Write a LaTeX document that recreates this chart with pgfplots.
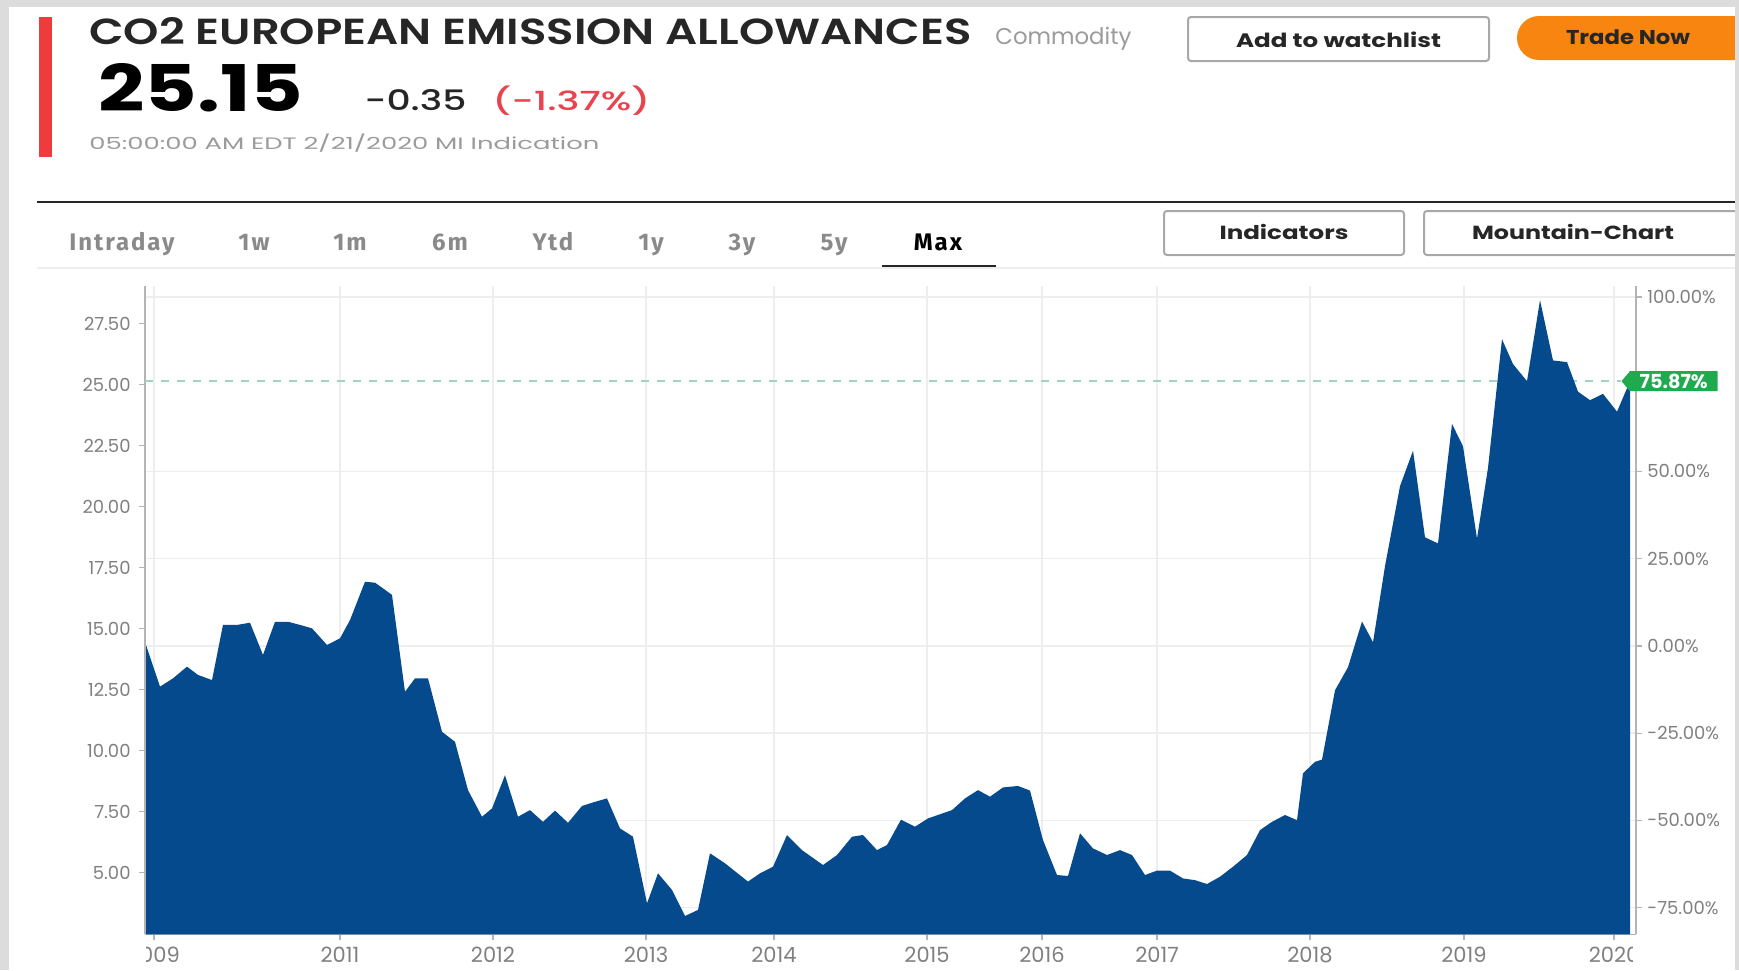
\documentclass[border=0pt]{standalone}
\usepackage{fontspec}
\setmainfont{Poppins}
\newfontfamily\popsemi{Poppins SemiBold}
\newfontfamily\popmed{Poppins Medium}
\newfontfamily\tabfont[LetterSpace=8]{Fira Sans}
\usepackage{graphicx}
\usepackage{pgfplots}
\pgfplotsset{compat=1.18}
\usetikzlibrary{shapes.symbols}

\definecolor{bggray}{HTML}{DCDCDC}
\definecolor{fillblue}{RGB}{6,74,142}
\definecolor{gridc}{HTML}{EEEEEE}
\definecolor{axisc}{HTML}{B4B4B4}
\definecolor{lblc}{HTML}{808080}
\definecolor{redbar}{HTML}{EE3B3B}
\definecolor{redtxt}{HTML}{E8434E}
\definecolor{orangebtn}{HTML}{F7850F}
\definecolor{tagc}{HTML}{21A94F}
\definecolor{dashc}{HTML}{9ED4C4}
\definecolor{tabgray}{HTML}{8A8A8A}
\definecolor{graytxt}{HTML}{9B9B9B}
\definecolor{btnborder}{HTML}{A8A8A8}
\definecolor{darktxt}{HTML}{262626}

\begin{document}
\begin{tikzpicture}
\begin{scope}[x=0.5pt,y=-0.5pt]
\path[use as bounding box] (0,0) rectangle (1739,970);
\fill[bggray] (0,0) rectangle (1739,970);
\fill[white] (9,7) rectangle (1735,970);
% header
\fill[redbar] (39,17) rectangle (52,157);
\node[anchor=base west, inner sep=0, text=darktxt] at (89,44) {\resizebox{441pt}{13.5pt}{\popsemi CO2 EUROPEAN EMISSION ALLOWANCES}};
\node[anchor=base west, inner sep=0, text=graytxt] at (995,44) {\resizebox{68pt}{!}{Commodity}};
\node[anchor=base west, inner sep=0, text=black] at (98,111) {\resizebox{102.5pt}{24pt}{\bfseries 25.15}};
\node[anchor=base west, inner sep=0, text=darktxt] at (364,110) {\resizebox{51pt}{10.5pt}{\popmed -0.35}};
\node[anchor=base west, inner sep=0, text=redtxt] at (492,110) {\resizebox{79pt}{12.3pt}{\popmed (-1.37\%)}};
\node[anchor=base west, inner sep=0, text=graytxt] at (89,149) {\resizebox{255pt}{7.8pt}{05:00:00 AM EDT 2/21/2020 MI Indication}};
% buttons
\draw[btnborder, line width=1pt, rounded corners=1.5pt] (1188,17) rectangle (1489,61);
\node[inner sep=0, text=darktxt] at (1338.5,40) {\resizebox{102.5pt}{7.8pt}{\bfseries Add to watchlist}};
\fill[orangebtn, rounded corners=11pt] (1517,16) rectangle (1780,60);
\node[inner sep=0, text=darktxt] at (1628,37) {\resizebox{62pt}{7.4pt}{\bfseries Trade Now}};
% separator lines
\draw[line width=1.25pt, color=darktxt] (37,202) -- (1739,202);
\draw[line width=0.75pt, color=gridc] (37,268) -- (1739,268);
% tabs
\begin{scope}[every node/.style={anchor=base, inner sep=0, font=\tabfont\bfseries\fontsize{12}{14}\selectfont, text=tabgray}]
\node at (122,250) {Intraday};
\node at (254,250) {1w};
\node at (350,250) {1m};
\node at (450,250) {6m};
\node at (553,250) {Ytd};
\node at (651,250) {1y};
\node at (742,250) {3y};
\node at (834,250) {5y};
\node[text=black] at (938,250) {Max};
\end{scope}
\draw[line width=1.25pt, color=darktxt] (882,266) -- (996,266);
\draw[btnborder, line width=1pt, rounded corners=1.5pt] (1164,211) rectangle (1404,255);
\node[inner sep=0, text=darktxt] at (1284,232) {\resizebox{64.5pt}{7.6pt}{\bfseries Indicators}};
\draw[btnborder, line width=1pt, rounded corners=1.5pt] (1424,211) rectangle (1780,255);
\node[inner sep=0, text=darktxt] at (1573,232) {\resizebox{101pt}{7.6pt}{\bfseries Mountain-Chart}};
\end{scope}

% percent axis (right) with horizontal grid
\begin{axis}[
  at={(72.5pt,-467.15pt)}, anchor=south west,
  width=745.5pt, height=324.15pt, scale only axis,
  xmin=145, xmax=1636, ymin=-82.658, ymax=103.143,
  axis x line=none, axis y line*=right,
  axis line style={-},
  xtick=\empty,
  ytick={-75,-50,-25,0,25,50,100},
  yticklabels={-75.00\%,-50.00\%,-25.00\%,0.00\%,25.00\%,50.00\%,100.00\%},
  ymajorgrids, major grid style={draw=gridc, line width=0.75pt},
  y axis line style={draw=axisc, line width=1pt},
  tick align=outside, major tick length=3pt,
  major tick style={draw=axisc, line width=0.6pt},
  yticklabel style={font=\fontsize{9}{10}\selectfont, text=lblc, inner sep=0pt, anchor=west, xshift=2.5pt},
]
\end{axis}

% value axis (left) with area
\begin{axis}[
  at={(72.5pt,-467.15pt)}, anchor=south west,
  width=745.5pt, height=324.15pt, scale only axis,
  xmin=145, xmax=1636, ymin=2.48, ymax=29.05,
  axis x line*=bottom, axis y line*=left,
  axis line style={-},
  xtick={154,340,493,646,774,927,1042,1157,1310,1464,1614},
  xticklabels={2009,2011,2012,2013,2014,2015,2016,2017,2018,2019,2020},
  xmajorgrids, major grid style={draw=gridc, line width=0.75pt},
  ytick={5,7.5,10,12.5,15,17.5,20,22.5,25,27.5},
  yticklabels={5.00,7.50,10.00,12.50,15.00,17.50,20.00,22.50,25.00,27.50},
  x axis line style={draw=axisc, line width=0.6pt},
  y axis line style={draw=axisc, line width=1pt},
  tick align=outside, major tick length=3pt,
  major tick style={draw=axisc, line width=0.6pt},
  xticklabel style={font=\fontsize{10.5}{12}\selectfont, text=lblc, inner sep=0pt, anchor=north, yshift=-3pt},
  yticklabel style={font=\fontsize{9}{10}\selectfont, text=lblc, inner sep=0pt, anchor=east, xshift=-4pt},
  clip mode=individual,
]
\addplot[dashc, dash pattern=on 4pt off 4pt, line width=0.8pt] coordinates {(145,25.15) (1621,25.15)};
\addplot[fill=fillblue, draw=none] coordinates {
(146,2.48) (146,14.34) (160,12.63) (173,12.97) (187,13.45) (198,13.11) (212,12.9) (223,15.16) (237,15.16) (250,15.25) (263,13.93) (275,15.29) (288,15.29) (300,15.16) (312,15.02) (327,14.34) (340,14.61) (350,15.36) (365,16.93) (375,16.89) (383,16.66) (392,16.39) (405,12.42) (415,12.97) (428,12.97) (442,10.78) (455,10.37) (468,8.39) (482,7.3) (492,7.64) (505,9.0) (518,7.3) (530,7.57) (543,7.09) (555,7.55) (568,7.05) (582,7.74) (595,7.91) (607,8.05) (620,6.82) (633,6.48) (647,3.75) (658,4.98) (672,4.3) (685,3.23) (698,3.48) (710,5.8) (725,5.39) (748,4.64) (760,4.98) (773,5.25) (787,6.55) (802,5.93) (823,5.32) (837,5.73) (852,6.48) (863,6.55) (877,5.93) (887,6.14) (901,7.18) (915,6.89) (928,7.23) (952,7.57) (965,8.05) (978,8.39) (990,8.12) (1003,8.5) (1018,8.56) (1030,8.37) (1043,6.34) (1057,4.91) (1068,4.87) (1080,6.62) (1093,6.0) (1107,5.73) (1120,5.93) (1132,5.73) (1145,4.91) (1157,5.09) (1170,5.09) (1183,4.77) (1195,4.70) (1207,4.54) (1220,4.84) (1233,5.25) (1247,5.73) (1260,6.75) (1272,7.09) (1285,7.37) (1297,7.16) (1303,9.08) (1315,9.55) (1322,9.64) (1335,12.48) (1348,13.43) (1362,15.3) (1373,14.45) (1385,17.57) (1400,20.85) (1413,22.3) (1425,18.75) (1438,18.5) (1452,23.4) (1463,22.48) (1477,18.7) (1488,21.6) (1502,26.87) (1513,25.85) (1527,25.15) (1540,28.47) (1553,26.0) (1567,25.93) (1578,24.72) (1590,24.37) (1603,24.63) (1617,23.9) (1630,25.15) (1630,2.48)
};
\node[signal, signal to=west, signal pointer angle=100, fill=tagc, text=white, anchor=west, inner sep=0pt, minimum width=48pt, minimum height=10pt] at (axis cs:1621,25.15) {\resizebox{34pt}{!}{\bfseries 75.87\%}};
\end{axis}

\begin{scope}[x=0.5pt,y=-0.5pt]
\fill[white] (60,946) rectangle (146,970);
\fill[white] (1633,946) rectangle (1700,970);
\fill[bggray] (1735,0) rectangle (1739,970);
\end{scope}
\end{tikzpicture}
\end{document}
